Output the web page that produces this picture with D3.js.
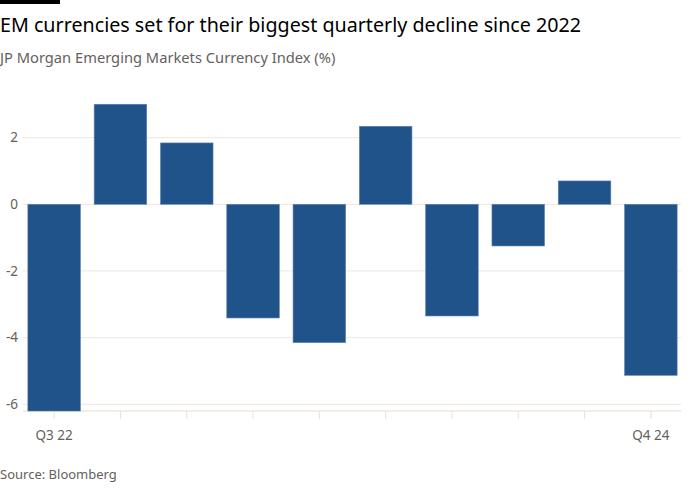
<!DOCTYPE html>
<html><head><meta charset="utf-8">
<script src="https://cdn.jsdelivr.net/npm/d3@7"></script>
<style>
body{margin:0;background:#fff;}
text{font-family:"Noto Sans",sans-serif;}
</style></head>
<body><svg id="c" width="700" height="500"></svg>
<script>
const categories = ["Q3 22","Q4 22","Q1 23","Q2 23","Q3 23","Q4 23","Q1 24","Q2 24","Q3 24","Q4 24"];
const values = [-6.2, 3.0, 1.84, -3.41, -4.15, 2.34, -3.35, -1.25, 0.7, -5.13];
const yTicks = [2, 0, -2, -4, -6];
const xTickLabels = ["Q3 22", "Q4 24"];
const title = "EM currencies set for their biggest quarterly decline since 2022";
const subtitle = "JP Morgan Emerging Markets Currency Index (%)";
const source = "Source: Bloomberg";

const svg = d3.select("#c");
svg.append("rect").attr("x",0).attr("y",0).attr("width",60).attr("height",4).attr("fill","#000");
svg.append("text").attr("x",0).attr("y",32).attr("font-size",19.7).attr("fill","#000").text(title);
svg.append("text").attr("x",0).attr("y",63).attr("font-size",14.7).attr("fill","#66605c").text(subtitle);
svg.append("text").attr("x",0).attr("y",479).attr("font-size",13).attr("fill","#66605c").text(source);

const y = d3.scaleLinear().domain([-6.2, 3.2]).range([411, 97.6]);
const x = d3.scaleBand().domain(categories).range([21, 684]).paddingInner(0.207).paddingOuter(0.1035);

const gl = 23, gr = 681;
svg.append("g").selectAll("line").data(yTicks).join("line")
  .attr("x1",gl).attr("x2",gr).attr("y1",d=>y(d)).attr("y2",d=>y(d))
  .attr("stroke","#f1ebe5").attr("stroke-width",1.3);
svg.append("g").selectAll("text").data(yTicks).join("text")
  .attr("x",18).attr("y",d=>y(d)).attr("dy","0.35em").attr("text-anchor","end")
  .attr("font-size",13.5).attr("fill","#66605c").text(d=>d);

// bottom axis
svg.append("line").attr("x1",gl).attr("x2",gr).attr("y1",411).attr("y2",411)
  .attr("stroke","#ede7e1").attr("stroke-width",1.3);
svg.append("g").selectAll("line").data(categories).join("line")
  .attr("x1",d=>x(d)+x.bandwidth()/2).attr("x2",d=>x(d)+x.bandwidth()/2)
  .attr("y1",411).attr("y2",419).attr("stroke","#e6e0da").attr("stroke-width",1);
svg.append("g").selectAll("text").data(xTickLabels).join("text")
  .attr("x",d=>x(d)+x.bandwidth()/2).attr("y",440).attr("text-anchor","middle")
  .attr("font-size",13.5).attr("fill","#66605c").text(d=>d);

svg.append("g").selectAll("rect").data(values).join("rect")
  .attr("x",(d,i)=>x(categories[i])).attr("width",x.bandwidth())
  .attr("y",d=>y(Math.max(0,d))).attr("height",d=>Math.abs(y(d)-y(0)))
  .attr("fill","#1f538a").attr("stroke","#5d83b0").attr("stroke-width",0.6);
</script></body></html>
